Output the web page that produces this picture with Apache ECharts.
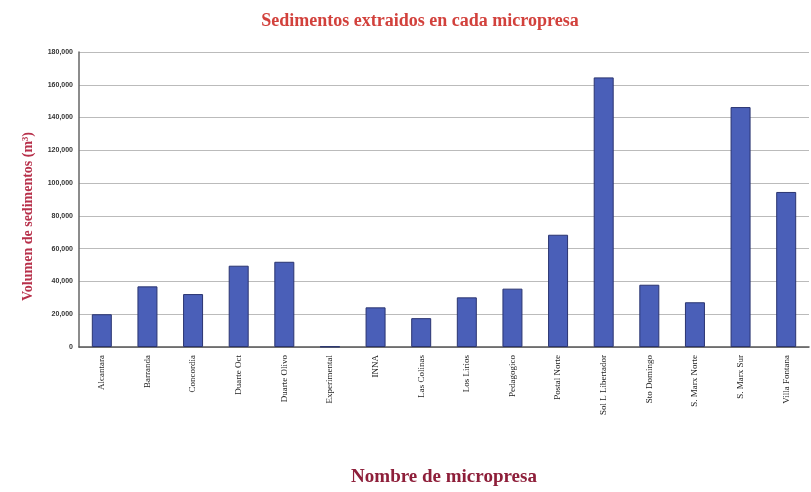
<!DOCTYPE html>
<html>
<head>
<meta charset="utf-8">
<script src="https://cdn.jsdelivr.net/npm/echarts@6/dist/echarts.min.js"></script>
<style>html,body{margin:0;padding:0;background:#fff;}#c{width:811px;height:492px;}</style>
</head>
<body>
<div id="c"></div>
<script>
var categories = ["Alcantara", "Barranda", "Concordia", "Duarte Oct", "Duarte Olivo", "Experimental", "INNA", "Las Colinas", "Los Lirios", "Pedagogico", "Postal Norte", "Sol L Libertador", "Sto Domingo", "S. Marx Norte", "S. Marx Sur", "Villa Fontana"];
var volumes = [20000, 37000, 32300, 49600, 52000, 300, 24200, 17600, 30300, 35600, 68500, 164500, 38000, 27300, 146400, 94600];
var yMin = 0, yMax = 180000, yStep = 20000;

var chart = echarts.init(document.getElementById('c'));
chart.setOption({
  backgroundColor: '#ffffff',
  animation: false,
  title: {
    text: 'Sedimentos extraidos en cada micropresa',
    left: 415, top: 7, textAlign: 'center',
    textStyle: {fontFamily: 'Liberation Serif', fontSize: 18, fontWeight: 'bold', color: '#d2413c'}
  },
  grid: {left: 79, right: 2, top: 52, bottom: 144},
  xAxis: {
    type: 'category',
    data: categories,
    name: 'Nombre de micropresa',
    nameLocation: 'middle',
    nameGap: 121,
    nameTextStyle: {fontFamily: 'Liberation Serif', fontSize: 19, fontWeight: 'bold', color: '#8e1f3a'},
    axisLine: {show: true, lineStyle: {color: '#555', width: 1.5}},
    axisTick: {show: false},
    axisLabel: {rotate: 90, interval: 0, margin: 8, fontFamily: 'Liberation Serif', fontSize: 9, color: '#222'}
  },
  yAxis: {
    type: 'value',
    min: yMin, max: yMax, interval: yStep,
    name: 'Volumen de sedimentos (m³)',
    nameLocation: 'middle',
    nameGap: 44,
    nameTextStyle: {fontFamily: 'Liberation Serif', fontSize: 14, fontWeight: 'bold', color: '#b7304a', padding: [0, 34, 0, 0]},
    axisLine: {show: true, lineStyle: {color: '#666', width: 1.5}},
    axisTick: {show: false},
    splitLine: {show: true, lineStyle: {color: '#bbbbbb', width: 1}},
    axisLabel: {
      margin: 6, fontFamily: 'Liberation Sans', fontSize: 7, fontWeight: 'bold', color: '#333',
      formatter: function (v) { return v.toString().replace(/\B(?=(\d{3})+(?!\d))/g, ','); }
    }
  },
  series: [{
    type: 'bar',
    data: volumes,
    barWidth: 20,
    itemStyle: {color: '#4a5fb8', borderColor: '#2a3470', borderWidth: 1}
  }]
});
</script>
</body>
</html>
